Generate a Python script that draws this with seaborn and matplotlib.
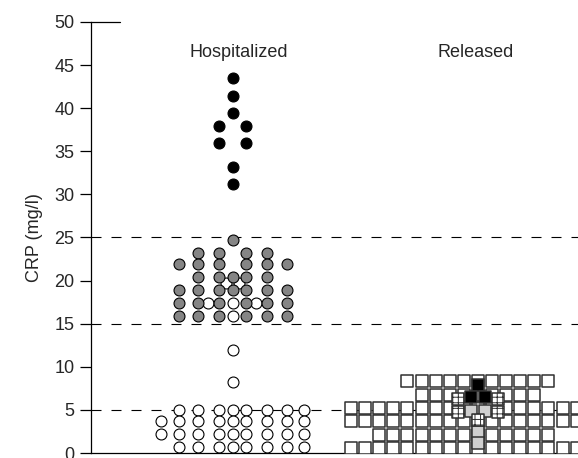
import numpy as np
import pandas as pd
import seaborn as sns
import matplotlib.pyplot as plt

# group centres on the x axis
GROUPS = {'Hospitalized': 0.0, 'Released': 1.0}

# Hospitalized patients: horizontal offset (data units) and CRP value (mg/l)
hosp_black_off = [0.0, 0.0, 0.0, -0.055, 0.055, -0.055, 0.055, 0.0, 0.0]
hosp_black_val = [43.5, 41.4, 39.4, 37.9, 37.9, 36.0, 36.0, 33.2, 31.2]

hosp_gray_off = [0.0,
                 -0.143, -0.057, 0.054, 0.139,
                 -0.219, -0.143, -0.057, 0.054, 0.139, 0.220,
                 -0.143, -0.057, 0.0, 0.054, 0.139,
                 -0.219, -0.143, -0.057, 0.0, 0.054, 0.139, 0.220,
                 -0.219, -0.143, -0.057, 0.054, 0.139, 0.220,
                 -0.219, -0.143, -0.057, 0.054, 0.139, 0.220]
hosp_gray_val = [24.7,
                 23.2, 23.2, 23.2, 23.2,
                 21.9, 21.9, 21.9, 21.9, 21.9, 21.9,
                 20.4, 20.4, 20.4, 20.4, 20.4,
                 18.9, 18.9, 18.9, 18.9, 18.9, 18.9, 18.9,
                 17.4, 17.4, 17.4, 17.4, 17.4, 17.4,
                 15.9, 15.9, 15.9, 15.9, 15.9, 15.9]

hosp_white_off = [-0.029, 0.027, -0.099, 0.0, 0.095, 0.0, 0.0, 0.0,
                  -0.219, -0.143, -0.057, 0.0, 0.054, 0.139, 0.220, 0.291,
                  -0.294, -0.219, -0.143, -0.057, 0.0, 0.054, 0.139, 0.220, 0.291,
                  -0.294, -0.219, -0.143, -0.057, 0.0, 0.054, 0.139, 0.220, 0.291,
                  -0.219, -0.143, -0.057, 0.0, 0.054, 0.139, 0.220, 0.291]
hosp_white_val = [19.75, 19.75, 17.4, 17.4, 17.4, 15.9, 11.9, 8.2,
                  5.0, 5.0, 5.0, 5.0, 5.0, 5.0, 5.0, 5.0,
                  3.7, 3.7, 3.7, 3.7, 3.7, 3.7, 3.7, 3.7, 3.7,
                  2.2, 2.2, 2.2, 2.2, 2.2, 2.2, 2.2, 2.2, 2.2,
                  0.73, 0.73, 0.73, 0.73, 0.73, 0.73, 0.73, 0.73]

# Released patients: rows of squares (value, first slot, last slot)
SLOT = 0.0575
rel_row_val = [8.32, 6.78, 5.22, 3.71, 2.14, 0.63]
rel_row_first = [-5, -4, -9, -9, -7, -9]
rel_row_last = [5, 4, 7, 7, 5, 7]

# highlighted released patients (offset in slots, value)
rel_black_slot = [0.0, -0.5, 0.5]
rel_black_val = [7.86, 6.47, 6.47]
rel_hatch_slot = [-1.4, 1.4, -1.4, 1.4, 0.0]
rel_hatch_val = [6.27, 6.27, 4.81, 4.81, 3.88]
rel_lgray_slot = [-0.5, 0.5, 0.0, 0.0]
rel_lgray_val = [4.92, 4.92, 2.48, 1.16]

cutoffs = [5, 15, 25]


def frame(center, offsets, values):
    return pd.DataFrame({'x': np.asarray(offsets) + center, 'y': values})


sns.set_style('ticks')
plt.rcParams['font.family'] = ['Liberation Sans', 'DejaVu Sans']
plt.rcParams['hatch.linewidth'] = 0.7

fig = plt.figure(figsize=(5.78, 4.58), dpi=100)
ax = fig.add_axes([91 / 578, 5 / 458, 1 - 91 / 578, 431 / 458])

for c in cutoffs:
    ax.axhline(c, color='black', lw=0.8, ls=(0, (9, 9)), zorder=1)

h = GROUPS['Hospitalized']
circ = dict(marker='o', s=62, edgecolor='black', linewidth=0.8, zorder=3, ax=ax)
sns.scatterplot(data=frame(h, hosp_white_off, hosp_white_val), x='x', y='y',
                color='white', **circ)
sns.scatterplot(data=frame(h, hosp_gray_off, hosp_gray_val), x='x', y='y',
                color='#858585', **circ)
sns.scatterplot(data=frame(h, hosp_black_off, hosp_black_val), x='x', y='y',
                color='black', **circ)

r = GROUPS['Released']
grid_off, grid_val = [], []
for v, a, b in zip(rel_row_val, rel_row_first, rel_row_last):
    for k in range(a, b + 1):
        grid_off.append(k * SLOT)
        grid_val.append(v)
sq = dict(marker='s', s=74, edgecolor='#303030', linewidth=1.1, zorder=3, ax=ax)
sns.scatterplot(data=frame(r, grid_off, grid_val), x='x', y='y',
                color='white', **sq)
sns.scatterplot(data=frame(r, np.array(rel_lgray_slot) * SLOT, rel_lgray_val),
                x='x', y='y', color='#cfcfcf', **sq)
sns.scatterplot(data=frame(r, np.array(rel_black_slot) * SLOT, rel_black_val),
                x='x', y='y', color='black', **sq)
sns.scatterplot(data=frame(r, np.array(rel_hatch_slot) * SLOT, rel_hatch_val),
                x='x', y='y', color='white', hatch='+++', **sq)

ax.text(0.023, 46.5, 'Hospitalized', ha='center', va='center', fontsize=13)
ax.text(0.99, 46.5, 'Released', ha='center', va='center', fontsize=13)

ax.set_xlim(-0.578, 1.408)
ax.set_ylim(0, 50)
ax.set_yticks(range(0, 51, 5))
ax.set_xticks([])
ax.set_xlabel('')
ax.set_ylabel('CRP (mg/l)', fontsize=13, labelpad=8)
ax.tick_params(axis='y', length=8, width=0.9, labelsize=13, pad=4, color='black')
for s in ['top', 'right']:
    ax.spines[s].set_visible(False)
for s in ['left', 'bottom']:
    ax.spines[s].set_color('black')
    ax.spines[s].set_linewidth(0.9)
ax.axhline(50, xmin=0, xmax=0.06, color='black', lw=0.9, clip_on=False)
ax.patch.set_alpha(0)

fig.savefig('out.png', dpi=100)
